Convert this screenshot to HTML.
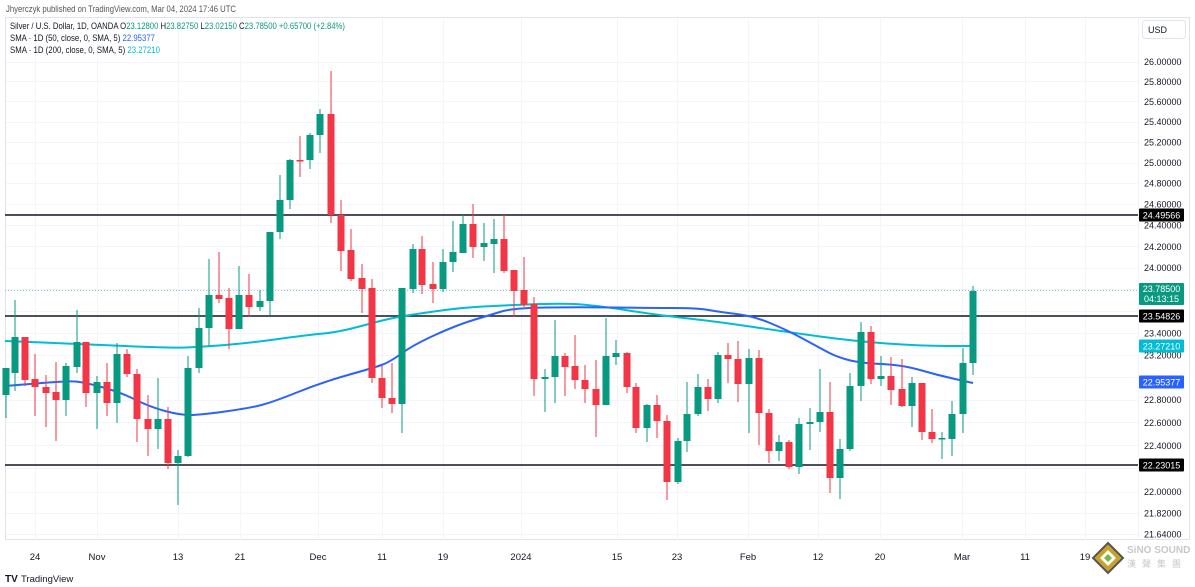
<!DOCTYPE html>
<html><head><meta charset="utf-8">
<style>
html,body{margin:0;padding:0;background:#fff;}
body{width:1195px;height:587px;overflow:hidden;position:relative;font-family:"Liberation Sans","Noto Sans CJK SC",sans-serif;}
svg{position:absolute;left:0;top:0;}
</style></head><body>
<svg id="s" width="1195" height="587" xmlns="http://www.w3.org/2000/svg" font-family="Liberation Sans, Noto Sans CJK SC, sans-serif">
<text x="6" y="12" font-size="9" fill="#555" textLength="230" lengthAdjust="spacingAndGlyphs">Jhyerczyk published on TradingView.com, Mar 04, 2024 17:46 UTC</text>
<rect x="5.5" y="17.5" width="1184" height="522" fill="none" stroke="#e0e3eb"/>
<line x1="1138.5" y1="18" x2="1138.5" y2="540" stroke="#f0f3fa"/>
<g id="grid"></g>
<g id="hl"></g>
<g id="ma"></g>
<g id="cd"></g>
<g id="ax"></g>
<rect x="1142.5" y="20.5" width="43" height="18" rx="3" fill="#fff" stroke="#e0e3eb"/>
<text x="1148" y="33" font-size="9" fill="#131722">USD</text>
<text x="10" y="29" font-size="9" fill="#131722" textLength="335" lengthAdjust="spacingAndGlyphs">Silver / U.S. Dollar, 1D, OANDA  O<tspan fill="#089981">23.12800</tspan>  H<tspan fill="#089981">23.82750</tspan>  L<tspan fill="#089981">23.02150</tspan>  C<tspan fill="#089981">23.78500  +0.65700 (+2.84%)</tspan></text>
<text x="10" y="41" font-size="9" fill="#131722" textLength="145" lengthAdjust="spacingAndGlyphs">SMA · 1D (50, close, 0, SMA, 5)  <tspan fill="#2962ff">22.95377</tspan></text>
<text x="10" y="53" font-size="9" fill="#131722" textLength="150" lengthAdjust="spacingAndGlyphs">SMA · 1D (200, close, 0, SMA, 5)  <tspan fill="#00bcd4">23.27210</tspan></text>
<text x="5" y="582" font-size="10" font-weight="bold" fill="#131722">TV</text>
<text x="21" y="582" font-size="9.5" fill="#131722">TradingView</text>
<g transform="translate(1108,558)">
<polygon points="0,-15 15,0 0,15 -15,0" fill="#c9a227"/>
<polygon points="0,-15 15,0 0,15 -15,0" fill="none" stroke="#555" stroke-width="2"/>
<polygon points="0,-8 8,0 0,8 -8,0" fill="#fff"/>
<polygon points="0,-4 4,0 0,4 -4,0" fill="#7ab648"/>
</g>
<text x="1127" y="553" font-size="10" font-weight="bold" fill="#c8c8c8">SiNO SOUND</text>
<text x="1127" y="567" font-size="9" fill="#c8c8c8" letter-spacing="6">漢聲集團</text>
</svg>
<script>
const NS="http://www.w3.org/2000/svg";
function el(p,t,a,txt){const e=document.createElementNS(NS,t);for(const k in a)e.setAttribute(k,a[k]);if(txt!==undefined)e.textContent=txt;document.getElementById(p).appendChild(e);return e;}
const L0=Math.log(24.49566);
function Y(p){return 215+(L0-Math.log(p))*2575;}
const ticks=[26,25.8,25.6,25.4,25.2,25,24.8,24.6,24.4,24.2,24,23.4,23.2,22.8,22.6,22.4,22,21.82,21.64];
const hidden=[23.8,23.6,23,22.2];
[...ticks,...hidden].forEach(p=>{const y=Math.round(Y(p))+0.5;el('grid','line',{x1:6,x2:1138,y1:y,y2:y,stroke:'#f3f5fa'});});
ticks.forEach(p=>{el('ax','text',{x:1144,y:Y(p)+3.5,'font-size':9,fill:'#131722'},p.toFixed(5));});
const dates=[[35,'24'],[97,'Nov'],[178,'13'],[240,'21'],[318,'Dec'],[382,'11'],[443,'19'],[521,'2024'],[617,'15'],[677,'23'],[748,'Feb'],[818,'12'],[880,'20'],[962,'Mar'],[1025,'11'],[1085,'19']];
dates.forEach(d=>{el('grid','line',{x1:d[0]+0.5,x2:d[0]+0.5,y1:18,y2:540,stroke:'#f3f5fa'});el('ax','text',{x:d[0],y:560,'font-size':9.5,fill:'#131722','text-anchor':'middle'},d[1]);});
[215,316,465].forEach(y=>el('hl','line',{x1:5,x2:1138,y1:y,y2:y,stroke:'#131722','stroke-width':1.6}));
el('hl','line',{x1:5,x2:1138,y1:290.5,y2:290.5,stroke:'#089981','stroke-dasharray':'1 2','stroke-opacity':0.5});
const ma200=[[5,341],[80,344],[170,348],[200,347],[250,343],[307,335],[340,332],[390,318],[430,312],[460,308],[490,306],[563,303],[600,306],[657,315],[720,322],[787,332],[853,341],[920,346],[973,346]];
const ma50=[[5,386],[67,381],[83,382],[120,392],[150,407],[180,415],[200,415],[250,408],[273,402],[323,382],[373,368],[390,362],[413,345],[457,325],[490,315],[513,308],[580,307],[647,308],[697,308],[720,312],[753,316],[787,330],[820,348],[837,357],[860,363],[903,365],[937,375],[973,383]];
function path(pts){let d='M'+pts[0][0]+','+pts[0][1];for(let i=1;i<pts.length;i++){const p0=pts[i-1],p1=pts[i];const mx=(p0[0]+p1[0])/2;d+=' Q'+p0[0]+','+p0[1]+' '+mx+','+(p0[1]+p1[1])/2;}d+=' L'+pts[pts.length-1][0]+','+pts[pts.length-1][1];return d;}
el('ma','path',{d:path(ma200),fill:'none',stroke:'#00bcd4','stroke-width':2});
el('ma','path',{d:path(ma50),fill:'none',stroke:'#2962ff','stroke-width':2});
const C=[[6,368,395,368,418,1],[15,337,373,300,391,1],[25,337,380,337,386,0],[35,379,387,354,416,0],[46,387,393,375,427,0],[56,392,400,362,441,0],[66,366,400,363,416,1],[77,342,367,310,373,1],[86,342,393,342,407,0],[97,382,393,376,429,1],[107,382,403,363,416,0],[117,354,403,343,423,1],[127,354,374,349,377,0],[137,374,419,369,442,0],[148,419,429,395,456,0],[158,419,429,378,449,1],[168,419,463,407,469,0],[178,456,463,450,505,1],[188,368,456,356,457,1],[199,328,368,308,373,1],[209,295,328,259,346,1],[219,295,299,252,303,0],[229,298,329,288,349,0],[239,295,329,266,329,1],[249,295,307,274,317,0],[260,301,307,290,311,1],[270,232,301,232,315,1],[280,200,232,175,239,1],[290,160,200,159,209,1],[300,160,161.5,136,177,0],[310,135,160,133,169,1],[320,114,135,109,153,1],[331,114,215,71,223,0],[341,215,251,200,271,0],[351,250,279,229,281,0],[362,278,289,264,313,0],[372,288,378,279,383,0],[382,378,398,366,408,0],[392,398,404,363,413,0],[402,288,404,288,433,1],[413,249,289,244,293,1],[422,249,285,236,294,0],[433,284,289,262,303,0],[443,262,289,249,292,1],[453,252,262,221,272,1],[463,224,253,215,253,1],[473,224,247,204,258,0],[484,243,247,223,261,1],[494,239,244,219,273,1],[504,239,271,215,273,0],[514,270,291,270,317,0],[524,290,305,257,307,0],[534,304,379,297,396,0],[545,377,379,369,412,1],[555,356,377,320,403,1],[565,356,367,353,396,0],[575,366,380,335,389,0],[585,380,389,365,403,0],[596,389,405,360,437,0],[606,356,405,318,405,1],[616,353,357,340,365,1],[627,353,387,352,393,0],[636,387,428,383,433,0],[647,405,428,404,442,1],[657,405,421,395,438,0],[667,421,482,415,500,0],[678,441,482,438,484,1],[687,414,441,382,452,1],[698,387,414,374,416,1],[708,387,399,379,411,0],[718,355,399,352,403,1],[728,355,359,343,383,0],[738,359,384,341,402,0],[749,358,384,349,433,1],[759,358,413,350,445,0],[769,413,451,409,463,0],[779,442,451,435,461,1],[789,442,467,440,469,0],[799,424,467,418,474,1],[810,422,424,408,450,1],[820,412,422,369,432,1],[830,412,478,382,493,0],[840,449,478,439,499,1],[850,386,449,373,451,1],[861,332,386,322,401,1],[871,332,379,326,384,0],[881,376,379,356,386,1],[891,376,390,357,405,0],[902,389,406,359,407,0],[912,383,406,377,427,1],[922,383,432,383,440,0],[932,432,439,409,443,0],[942,438,439.5,432,459,1],[952,414,439,401,456,1],[963,363,414,348,433,1],[973,291,363,286,375,1]];
C.forEach(c=>{const col=c[5]?'#089981':'#f23645';
el('cd','line',{x1:c[0],x2:c[0],y1:c[3],y2:c[4],stroke:col,'stroke-width':1});
el('cd','rect',{x:c[0]-3.5,y:c[1],width:7,height:Math.max(1.5,c[2]-c[1]),fill:col});});
function badge(y,txt,bg,h,txt2){el('ax','rect',{x:1139,y:y-h/2,width:45,height:h,fill:bg,rx:1});
el('ax','text',{x:1161.5,y:txt2?y-2:y+3.5,'font-size':9,fill:'#fff','text-anchor':'middle'},txt);
if(txt2)el('ax','text',{x:1161.5,y:y+8,'font-size':9,fill:'#fff','text-anchor':'middle'},txt2);}
badge(215,'24.49566','#000',13);
badge(294,'23.78500','#089981',22,'04:13:15');
badge(316,'23.54826','#000',13);
badge(346,'23.27210','#00bcd4',13);
badge(382,'22.95377','#2962ff',13);
badge(465,'22.23015','#000',13);
</script>
</body></html>
